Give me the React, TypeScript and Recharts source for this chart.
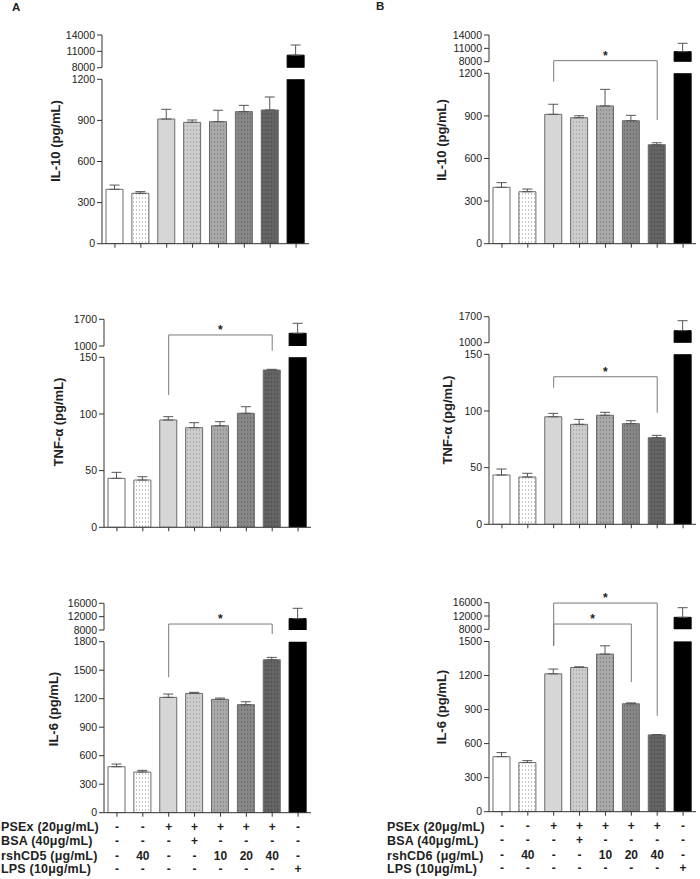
import React from "react";
import { Bar, BarChart, Cell, ErrorBar, ReferenceLine, XAxis, YAxis } from "recharts";

const categories = ["ctrl", "cd40", "psex", "psexBsa", "psex10", "psex20", "psex40", "lps"];

// bar heights and upper error (SEM)
const il10AValues = [397, 368, 910, 886, 891, 964, 976, 10300];
const il10AErrors = [31, 12, 71, 17, 83, 46, 95, 1860];
const il10BValues = [397, 366, 911, 887, 970, 866, 697, 10250];
const il10BErrors = [33, 19, 71, 14, 117, 38, 14, 1885];
const tnfAValues = [43.2, 41.7, 94.7, 87.9, 89.6, 100.6, 138.8, 1333];
const tnfAErrors = [5.3, 2.9, 2.9, 4.4, 3.6, 5.8, 0.6, 262];
const tnfBValues = [43.5, 41.7, 94.9, 88.2, 96.2, 88.8, 76.4, 1323];
const tnfBErrors = [5.3, 3.3, 3.0, 4.4, 2.6, 2.6, 2.1, 269];
const il6AValues = [484, 428, 1214, 1256, 1193, 1137, 1610, 11400];
const il6AErrors = [28, 18, 35, 11, 14, 31, 25, 3100];
const il6BValues = [485, 433, 1215, 1271, 1389, 951, 677, 11600];
const il6BErrors = [36, 17, 42, 6, 73, 8, 3, 2900];

// broken axis ticks
const il10TopTicks = [8000, 11000, 14000];
const il10BotTicks = [0, 300, 600, 900, 1200];
const tnfTopTicks = [1000, 1700];
const tnfBotTicks = [0, 50, 100, 150];
const il6TopTicks = [8000, 12000, 16000];
const il6ABotTicks = [0, 300, 600, 900, 1200, 1500, 1800];
const il6BBotTicks = [0, 300, 600, 900, 1200, 1500];

// significance brackets: y level, and where each leg ends
type Bracket = { from: string; to: string; y: number; fromEnd: number; toEnd: number };
const il10BBrackets: Bracket[] = [{ from: "psex", to: "psex40", y: 1289, fromEnd: 1141, toEnd: 871 }];
const tnfABrackets: Bracket[] = [{ from: "psex", to: "psex40", y: 169.7, fromEnd: 116.7, toEnd: 155.8 }];
const tnfBBrackets: Bracket[] = [{ from: "psex", to: "psex40", y: 130.2, fromEnd: 120.5, toEnd: 98.5 }];
const il6ABrackets: Bracket[] = [{ from: "psex", to: "psex40", y: 1986, fromEnd: 1425, toEnd: 1881 }];
const il6BBrackets: Bracket[] = [
  { from: "psex", to: "psex40", y: 1839, fromEnd: 1462, toEnd: 845 },
  { from: "psex", to: "psex20", y: 1654, fromEnd: 1462, toEnd: 1142 },
];

// treatment table under the bottom row
const pseRow = ["-", "-", "+", "+", "+", "+", "+", "-"];
const bsaRow = ["-", "-", "-", "+", "-", "-", "-", "-"];
const cdRow = ["-", "40", "-", "-", "10", "20", "40", "-"];
const lpsRow = ["-", "-", "-", "-", "-", "-", "-", "+"];
const rowLabelsA = ["PSEx (20μg/mL)", "BSA (40μg/mL)", "rshCD5 (μg/mL)", "LPS (10μg/mL)"];
const rowLabelsB = ["PSEx (20μg/mL)", "BSA (40μg/mL)", "rshCD6 (μg/mL)", "LPS (10μg/mL)"];

const FONT = '"Liberation Sans", Arial, Helvetica, sans-serif';
const INK = "#222";
const BAR_EDGE = "#6b6b6b";

const patterns = [
  { id: "dotsWhite", bg: "#ffffff", dot: "#8a8a8a" },
  { id: "dotsLight", bg: "#cdcdcd", dot: "#8c8c8c" },
  { id: "dotsMid", bg: "#a9a9a9", dot: "#6c6c6c" },
  { id: "dotsDark", bg: "#878787", dot: "#555555" },
  { id: "dotsDarker", bg: "#646464", dot: "#3c3c3c" },
];
const fills = ["#ffffff", "url(#dotsWhite)", "#d6d6d6", "url(#dotsLight)", "url(#dotsMid)", "url(#dotsDark)", "url(#dotsDarker)", "#000000"];

const tableRows = [pseRow, bsaRow, cdRow, lpsRow];
const rowOffsets = [8.6, 22, 36.8, 50.4];

type PanelSpec = {
  left: number;
  top: number;
  height: number;
  plotLeft: number;
  plotRight: number;
  topDomain: [number, number];
  topTicks: number[];
  topPx: [number, number];
  botDomain: [number, number];
  botTicks: number[];
  botPx: [number, number];
  values: number[];
  errors: number[];
  brackets: Bracket[];
  title: string;
  titleX: number;
  titleY: number;
  table?: boolean;
};

const TableTick = (props: any) => {
  const { x, y, payload } = props;
  const i = categories.indexOf(payload.value);
  return (
    <g>
      {tableRows.map((r, k) => (
        <text
          key={k}
          x={x}
          y={y + rowOffsets[k]}
          textAnchor="middle"
          dominantBaseline="central"
          fontSize={12}
          fontWeight="bold"
          fill={INK}
          fontFamily={FONT}
        >
          {r[i]}
        </text>
      ))}
    </g>
  );
};

const NoTick = () => <g />;

const yTick = { fontSize: 10.5, fill: INK, fontFamily: FONT };

const Panel = ({ spec }: { spec: PanelSpec }) => {
  const w = 350;
  const yW = spec.plotLeft - spec.left;
  const mr = spec.left + w - spec.plotRight;
  const topMin = spec.topDomain[0];
  const botMax = spec.botDomain[1];
  const xH = spec.table ? 60 : 20;

  const topData = categories.map((name, i) => ({
    name,
    value: spec.values[i] >= topMin ? spec.values[i] : null,
    err: spec.values[i] >= topMin ? [0, spec.errors[i]] : null,
  }));
  const botData = categories.map((name, i) => ({
    name,
    value: Math.min(spec.values[i], botMax),
    err: spec.values[i] > botMax ? null : [0, spec.errors[i]],
  }));

  const topMargin = { top: spec.topPx[0] - spec.top, bottom: spec.top + spec.height - spec.topPx[1], left: 0, right: mr };
  const botMargin = { top: spec.botPx[0] - spec.top, bottom: spec.top + spec.height - spec.botPx[1] - xH, left: 0, right: mr };

  const cells = categories.map((c, i) => (
    <Cell key={c} fill={fills[i]} stroke={i === 7 ? "#000" : BAR_EDGE} />
  ));

  const bracketLines: React.ReactNode[] = [];
  spec.brackets.forEach((b, k) => {
    bracketLines.push(
      <ReferenceLine
        key={`h${k}`}
        segment={[{ x: b.from, y: b.y }, { x: b.to, y: b.y }]}
        ifOverflow="visible"
        stroke="#7a7a7a"
        strokeWidth={1}
        label={{ value: "*", position: "top", offset: 1, fontSize: 12, fontWeight: "bold", fill: INK, fontFamily: FONT }}
      />,
      <ReferenceLine
        key={`l${k}`}
        segment={[{ x: b.from, y: b.y }, { x: b.from, y: b.fromEnd }]}
        ifOverflow="visible"
        stroke="#7a7a7a"
        strokeWidth={1}
      />,
      <ReferenceLine
        key={`r${k}`}
        segment={[{ x: b.to, y: b.y }, { x: b.to, y: b.toEnd }]}
        ifOverflow="visible"
        stroke="#7a7a7a"
        strokeWidth={1}
      />
    );
  });

  return (
    <div style={{ position: "absolute", left: spec.left, top: spec.top, width: w, height: spec.height }}>
      <div style={{ position: "absolute", left: 0, top: 0 }}>
        <BarChart width={w} height={spec.height} data={botData} margin={botMargin} barSize={17}>
          <XAxis
            dataKey="name"
            height={xH}
            interval={0}
            tickSize={4}
            tickMargin={2}
            stroke="#333"
            tick={spec.table ? <TableTick /> : <NoTick />}
          />
          <YAxis
            type="number"
            width={yW}
            domain={spec.botDomain}
            ticks={spec.botTicks}
            allowDataOverflow
            interval={0}
            tickSize={5}
            tickMargin={2}
            stroke="#333"
            tick={yTick}
          />
          <Bar dataKey="value" isAnimationActive={false} strokeWidth={1}>
            {cells}
            <ErrorBar dataKey="err" width={5} stroke="#555" strokeWidth={1} direction="y" />
          </Bar>
          {bracketLines}
        </BarChart>
      </div>
      <div style={{ position: "absolute", left: 0, top: 0 }}>
        <BarChart width={w} height={spec.height} data={topData} margin={topMargin} barSize={17}>
          <XAxis dataKey="name" hide />
          <YAxis
            type="number"
            width={yW}
            domain={spec.topDomain}
            ticks={spec.topTicks}
            allowDataOverflow
            interval={0}
            tickSize={5}
            tickMargin={2}
            stroke="#333"
            tick={yTick}
          />
          <Bar dataKey="value" isAnimationActive={false} strokeWidth={1}>
            {cells}
            <ErrorBar dataKey="err" width={5} stroke="#555" strokeWidth={1} direction="y" />
          </Bar>
        </BarChart>
      </div>
      <div
        style={{
          position: "absolute",
          left: spec.titleX - spec.left,
          top: spec.titleY - spec.top,
          transform: "translate(-50%, -50%) rotate(-90deg)",
          whiteSpace: "nowrap",
          fontSize: 13,
          fontWeight: "bold",
          color: INK,
          fontFamily: FONT,
        }}
      >
        {spec.title}
      </div>
    </div>
  );
};

const panels: PanelSpec[] = [
  {
    left: 0, top: 0, height: 270, plotLeft: 102, plotRight: 309,
    topDomain: [8000, 14000], topTicks: il10TopTicks, topPx: [35, 67.7],
    botDomain: [0, 1200], botTicks: il10BotTicks, botPx: [79.3, 243.7],
    values: il10AValues, errors: il10AErrors, brackets: [],
    title: "IL-10 (pg/mL)", titleX: 55, titleY: 141,
  },
  {
    left: 350, top: 0, height: 270, plotLeft: 489, plotRight: 696,
    topDomain: [8000, 14000], topTicks: il10TopTicks, topPx: [35, 61.7],
    botDomain: [0, 1200], botTicks: il10BotTicks, botPx: [73.3, 243.7],
    values: il10BValues, errors: il10BErrors, brackets: il10BBrackets,
    title: "IL-10 (pg/mL)", titleX: 441, titleY: 140,
  },
  {
    left: 0, top: 280, height: 270, plotLeft: 104, plotRight: 311,
    topDomain: [1000, 1700], topTicks: tnfTopTicks, topPx: [319.3, 346],
    botDomain: [0, 150], botTicks: tnfBotTicks, botPx: [357.3, 527.3],
    values: tnfAValues, errors: tnfAErrors, brackets: tnfABrackets,
    title: "TNF-α (pg/mL)", titleX: 58, titleY: 422,
  },
  {
    left: 350, top: 280, height: 270, plotLeft: 489, plotRight: 696,
    topDomain: [1000, 1700], topTicks: tnfTopTicks, topPx: [316.7, 342.7],
    botDomain: [0, 150], botTicks: tnfBotTicks, botPx: [354.3, 524.3],
    values: tnfBValues, errors: tnfBErrors, brackets: tnfBBrackets,
    title: "TNF-α (pg/mL)", titleX: 447, titleY: 420,
  },
  {
    left: 0, top: 560, height: 319, plotLeft: 104, plotRight: 311,
    topDomain: [8000, 16000], topTicks: il6TopTicks, topPx: [603.3, 630],
    botDomain: [0, 1800], botTicks: il6ABotTicks, botPx: [641.7, 812.7],
    values: il6AValues, errors: il6AErrors, brackets: il6ABrackets,
    title: "IL-6 (pg/mL)", titleX: 52.5, titleY: 709, table: true,
  },
  {
    left: 350, top: 560, height: 319, plotLeft: 489, plotRight: 696,
    topDomain: [8000, 16000], topTicks: il6TopTicks, topPx: [602.7, 629.3],
    botDomain: [0, 1500], botTicks: il6BBotTicks, botPx: [641.5, 811.7],
    values: il6BValues, errors: il6BErrors, brackets: il6BBrackets,
    title: "IL-6 (pg/mL)", titleX: 441, titleY: 707, table: true,
  },
];

const rowCenters = [827.3, 840.7, 855.7, 869.3];

const rowLabelStyle: React.CSSProperties = {
  position: "absolute",
  height: 14,
  lineHeight: "14px",
  fontSize: 12.5,
  letterSpacing: 0.2,
  fontWeight: "bold",
  color: INK,
  whiteSpace: "nowrap",
};

const App = () => {
  return (
    <div
      style={{
        position: "absolute",
        left: 0,
        top: 0,
        width: 700,
        height: 879,
        background: "#fff",
        fontFamily: FONT,
        overflow: "hidden",
      }}
    >
      <svg width={0} height={0} style={{ position: "absolute" }}>
        <defs>
          {patterns.map((p) => (
            <pattern key={p.id} id={p.id} width={3} height={4} patternUnits="userSpaceOnUse">
              <rect width={3} height={4} fill={p.bg} />
              <rect x={1} y={1.5} width={1} height={1} fill={p.dot} />
            </pattern>
          ))}
        </defs>
      </svg>

      <div style={{ position: "absolute", left: 12, top: 1, fontSize: 11.5, fontWeight: "bold", color: INK }}>A</div>
      <div style={{ position: "absolute", left: 376, top: 0, fontSize: 11.5, fontWeight: "bold", color: INK }}>B</div>

      {panels.map((p, i) => (
        <Panel key={i} spec={p} />
      ))}

      {rowLabelsA.map((t, k) => (
        <div key={`a${k}`} style={{ ...rowLabelStyle, left: 1, top: rowCenters[k] - 7 }}>
          {t}
        </div>
      ))}
      {rowLabelsB.map((t, k) => (
        <div key={`b${k}`} style={{ ...rowLabelStyle, left: 387, top: rowCenters[k] - 7 }}>
          {t}
        </div>
      ))}
    </div>
  );
};

export default App;
